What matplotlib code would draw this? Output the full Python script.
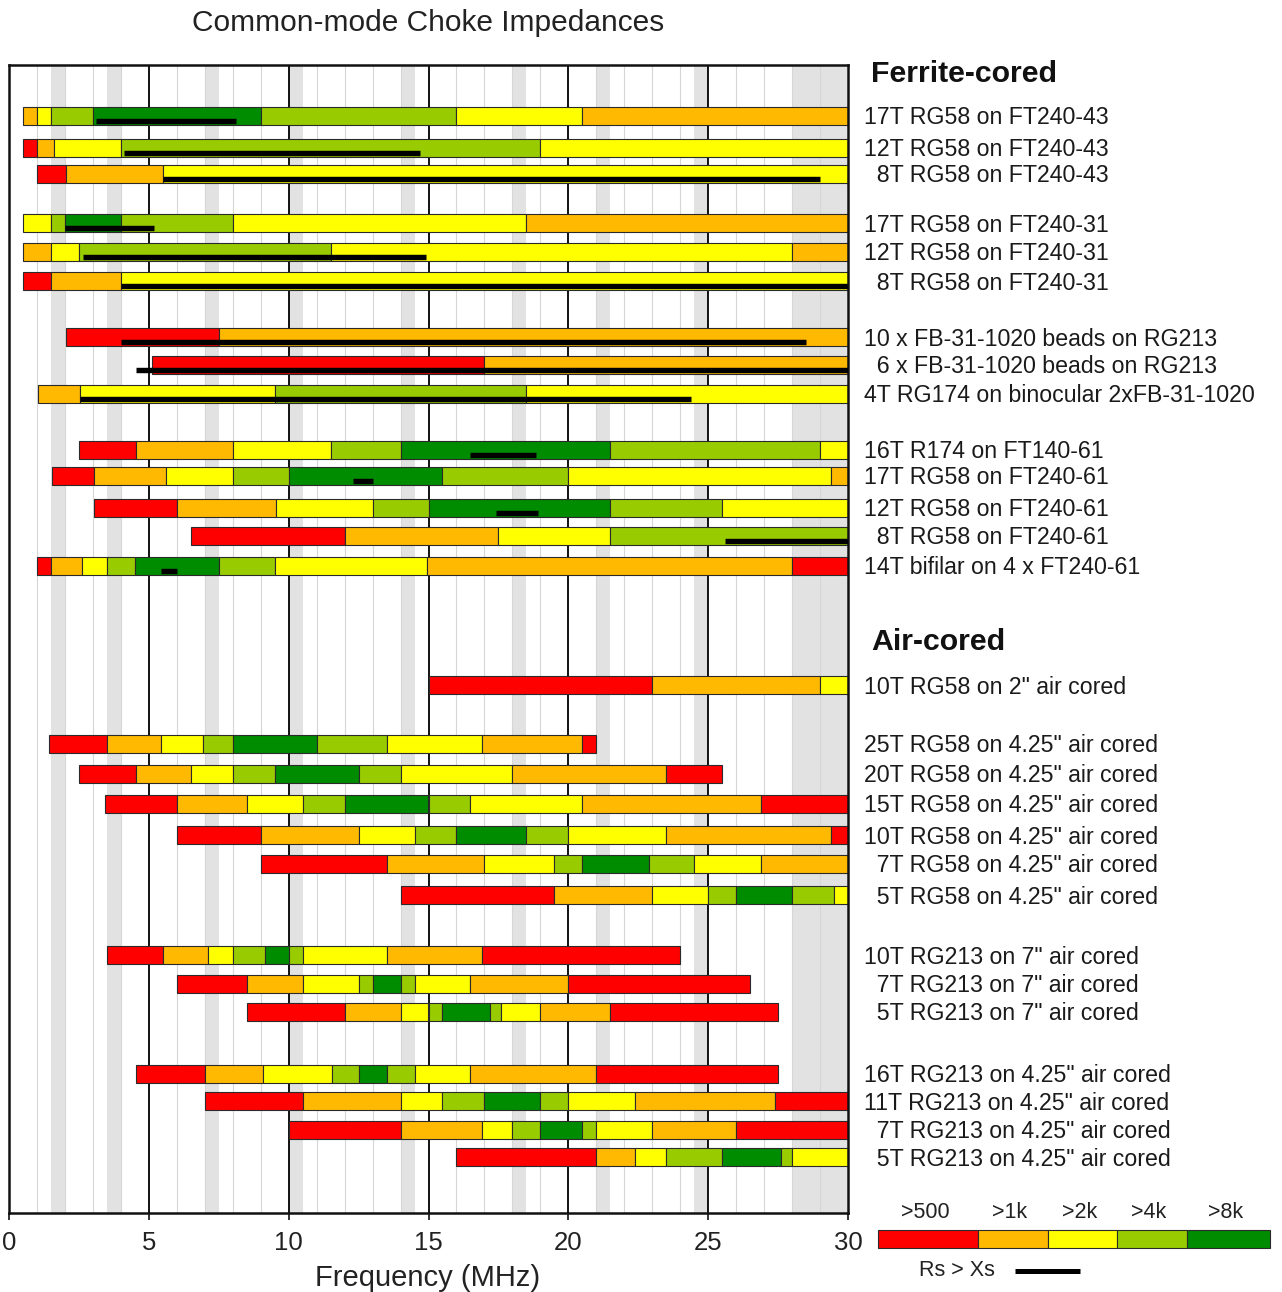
import matplotlib
matplotlib.use('Agg')
import matplotlib.pyplot as plt

plt.rcParams['font.family'] = ['Liberation Sans', 'DejaVu Sans']

# ---------------- data ----------------
title = 'Common-mode Choke Impedances'
xlabel = 'Frequency (MHz)'
level_colors = ['#ff0000', '#ffb900', '#ffff00', '#99cc00', '#008c00']
level_labels = ['>500', '>1k', '>2k', '>4k', '>8k']
rs_label = 'Rs > Xs'
section_titles = ['Ferrite-cored', 'Air-cored']
ham_bands = [(1.5, 2.0), (3.5, 4.0), (7.0, 7.5), (10.0, 10.5), (14.0, 14.5),
             (18.0, 18.5), (21.0, 21.5), (24.5, 25.0), (28.0, 30.0)]

labels = [
    '17T RG58 on FT240-43', '12T RG58 on FT240-43', '  8T RG58 on FT240-43',
    '17T RG58 on FT240-31', '12T RG58 on FT240-31', '  8T RG58 on FT240-31',
    '10 x FB-31-1020 beads on RG213', '  6 x FB-31-1020 beads on RG213',
    '4T RG174 on binocular 2xFB-31-1020',
    '16T R174 on FT140-61', '17T RG58 on FT240-61', '12T RG58 on FT240-61',
    '  8T RG58 on FT240-61', '14T bifilar on 4 x FT240-61',
    '10T RG58 on 2" air cored',
    '25T RG58 on 4.25" air cored', '20T RG58 on 4.25" air cored',
    '15T RG58 on 4.25" air cored', '10T RG58 on 4.25" air cored',
    '  7T RG58 on 4.25" air cored', '  5T RG58 on 4.25" air cored',
    '10T RG213 on 7" air cored', '  7T RG213 on 7" air cored', '  5T RG213 on 7" air cored',
    '16T RG213 on 4.25" air cored', '11T RG213 on 4.25" air cored',
    '  7T RG213 on 4.25" air cored', '  5T RG213 on 4.25" air cored',
]

# segment boundaries (MHz) for each choke
bounds = [
    [0.5, 1.0, 1.5, 3.0, 9.0, 16.0, 20.5, 30],
    [0.5, 1.0, 1.6, 4.0, 19.0, 30],
    [1.0, 2.05, 5.5, 30],
    [0.5, 1.5, 2.0, 4.0, 8.0, 18.5, 30],
    [0.5, 1.5, 2.5, 11.5, 28.0, 30],
    [0.5, 1.5, 4.0, 30],
    [2.05, 7.5, 30],
    [5.1, 17.0, 30],
    [1.05, 2.55, 9.5, 18.5, 30],
    [2.5, 4.55, 8.0, 11.5, 14.0, 21.5, 29.0, 30],
    [1.55, 3.05, 5.6, 8.0, 10.0, 15.5, 20.0, 29.4, 30],
    [3.05, 6.0, 9.55, 13.0, 15.0, 21.5, 25.5, 30],
    [6.5, 12.0, 17.5, 21.5, 30],
    [1.0, 1.5, 2.6, 3.5, 4.5, 7.5, 9.5, 14.95, 28.0, 30],
    [15.0, 23.0, 29.0, 30],
    [1.43, 3.5, 5.45, 6.95, 8.0, 11.0, 13.5, 16.9, 20.5, 21.0],
    [2.5, 4.55, 6.5, 8.0, 9.5, 12.5, 14.0, 18.0, 23.5, 25.5],
    [3.43, 6.0, 8.5, 10.5, 12.0, 15.0, 16.5, 20.5, 26.9, 30],
    [6.0, 9.0, 12.5, 14.5, 16.0, 18.5, 20.0, 23.5, 29.4, 30],
    [9.0, 13.5, 17.0, 19.5, 20.5, 22.9, 24.5, 26.9, 30],
    [14.0, 19.5, 23.0, 25.0, 26.0, 28.0, 29.5, 30],
    [3.5, 5.5, 7.1, 8.0, 9.14, 10.0, 10.5, 13.5, 16.9, 24.0],
    [6.0, 8.5, 10.5, 12.5, 13.0, 14.0, 14.5, 16.5, 20.0, 26.5],
    [8.5, 12.0, 14.0, 15.0, 15.5, 17.2, 17.6, 19.0, 21.5, 27.5],
    [4.55, 7.0, 9.1, 11.55, 12.5, 13.5, 14.5, 16.5, 21.0, 27.5],
    [7.0, 10.5, 14.0, 15.5, 17.0, 19.0, 20.0, 22.4, 27.4, 30],
    [10.0, 14.0, 16.9, 18.0, 19.0, 20.5, 21.0, 23.0, 26.0, 30],
    [16.0, 21.0, 22.4, 23.5, 25.5, 27.6, 28.0, 30],
]

# impedance level of each segment: 0 >500, 1 >1k, 2 >2k, 3 >4k, 4 >8k
levels = [
    [1, 2, 3, 4, 3, 2, 1],
    [0, 1, 2, 3, 2],
    [0, 1, 2],
    [2, 3, 4, 3, 2, 1],
    [1, 2, 3, 2, 1],
    [0, 1, 2],
    [0, 1],
    [0, 1],
    [1, 2, 3, 2],
    [0, 1, 2, 3, 4, 3, 2],
    [0, 1, 2, 3, 4, 3, 2, 1],
    [0, 1, 2, 3, 4, 3, 2],
    [0, 1, 2, 3],
    [0, 1, 2, 3, 4, 3, 2, 1, 0],
    [0, 1, 2],
    [0, 1, 2, 3, 4, 3, 2, 1, 0],
    [0, 1, 2, 3, 4, 3, 2, 1, 0],
    [0, 1, 2, 3, 4, 3, 2, 1, 0],
    [0, 1, 2, 3, 4, 3, 2, 1, 0],
    [0, 1, 2, 3, 4, 3, 2, 1],
    [0, 1, 2, 3, 4, 3, 2],
    [0, 1, 2, 3, 4, 3, 2, 1, 0],
    [0, 1, 2, 3, 4, 3, 2, 1, 0],
    [0, 1, 2, 3, 4, 3, 2, 1, 0],
    [0, 1, 2, 3, 4, 3, 2, 1, 0],
    [0, 1, 2, 3, 4, 3, 2, 1, 0],
    [0, 1, 2, 3, 4, 3, 2, 1, 0],
    [0, 1, 2, 3, 4, 3, 2],
]

# range where Rs > Xs (MHz), None if absent
rsxs = [
    (3.1, 8.1), (4.1, 14.7), (5.5, 29.0),
    (2.0, 5.2), (2.65, 14.9), (4.0, 30.0),
    (4.0, 28.5), (4.55, 30.0), (2.55, 24.4),
    (16.5, 18.85), (12.3, 13.0), (17.4, 18.9), (25.6, 30.0), (5.45, 6.0),
    None, None, None, None, None, None, None,
    None, None, None, None, None, None, None,
]

# ---------------- layout (pixel units) ----------------
W, H = 1282, 1292
row_y = [116, 147.5, 174, 223, 252, 281, 337, 364.5, 394,
         450, 476, 508, 536, 566,
         685, 743.5, 774, 804, 835, 864, 895,
         955, 984, 1012, 1074, 1101, 1130, 1157]
bar_h = 18
ax_left, ax_right, ax_top, ax_bottom = 9, 848, 65, 1213

fig = plt.figure(figsize=(W / 100, H / 100), dpi=100)
fig.patch.set_facecolor('white')

ov = fig.add_axes([0, 0, 1, 1])
ov.set_xlim(0, W)
ov.set_ylim(H, 0)
ov.axis('off')

ax = fig.add_axes([ax_left / W, 1 - ax_bottom / H,
                   (ax_right - ax_left) / W, (ax_bottom - ax_top) / H])
ax.set_xlim(0, 30)
ax.set_ylim(ax_bottom, ax_top)

# background: ham bands, 1 MHz lines, 5 MHz lines
for b0, b1 in ham_bands:
    ax.axvspan(b0, b1, color='#e2e2e2', lw=0, zorder=0)
for f in range(1, 30):
    if f % 5 == 0:
        ax.axvline(f, color='black', lw=1.3, zorder=0.6)
    else:
        ax.axvline(f, color='#d6d6d6', lw=0.8, zorder=0.5)

for i, y in enumerate(row_y):
    b = bounds[i]
    for j, lv in enumerate(levels[i]):
        ax.barh(y, b[j + 1] - b[j], left=b[j], height=bar_h,
                color=level_colors[lv], edgecolor='#2a2a2a', linewidth=0.8,
                zorder=2)
    if rsxs[i] is not None:
        s, e = rsxs[i]
        ax.plot([s, e], [y + 5, y + 5], color='black', lw=3.9,
                solid_capstyle='butt', zorder=3)
    ov.text(864, y + 2, labels[i], ha='left', va='center', fontsize=16.7,
            color='#1a1a1a')

for sp in ax.spines.values():
    sp.set_linewidth(1.8)
    sp.set_color('#111111')
ax.set_yticks([])
ax.set_xticks(range(0, 31, 5))
ax.tick_params(axis='x', labelsize=18.5, length=5, width=1.3, pad=8,
               colors='#222222')

# text
ov.text(428, 23, title, ha='center', va='center', fontsize=21.5, color='#222222')
ov.text(428, 1278, xlabel, ha='center', va='center', fontsize=21, color='#222222')
ov.text(871, 74, section_titles[0], ha='left', va='center', fontsize=21.8,
        fontweight='bold', color='#111111')
ov.text(871, 642, section_titles[1], ha='left', va='center', fontsize=21.8,
        fontweight='bold', color='#111111')

# legend
leg_left = 878
leg_widths = [100, 70, 69, 70, 83]
x = leg_left
for k, wdt in enumerate(leg_widths):
    ov.barh(1239, wdt, left=x, height=18, color=level_colors[k],
            edgecolor='#2a2a2a', linewidth=0.8)
    ov.text(x + wdt / 2 - 3, 1213, level_labels[k], ha='center', va='center',
            fontsize=15.5, color='#222222')
    x += wdt
ov.text(919, 1271, rs_label, ha='left', va='center', fontsize=15.5, color='#222222')
ov.plot([1015, 1080], [1271, 1271], color='black', lw=3.6, solid_capstyle='butt')

fig.savefig('out.png', dpi=100, facecolor='white')
